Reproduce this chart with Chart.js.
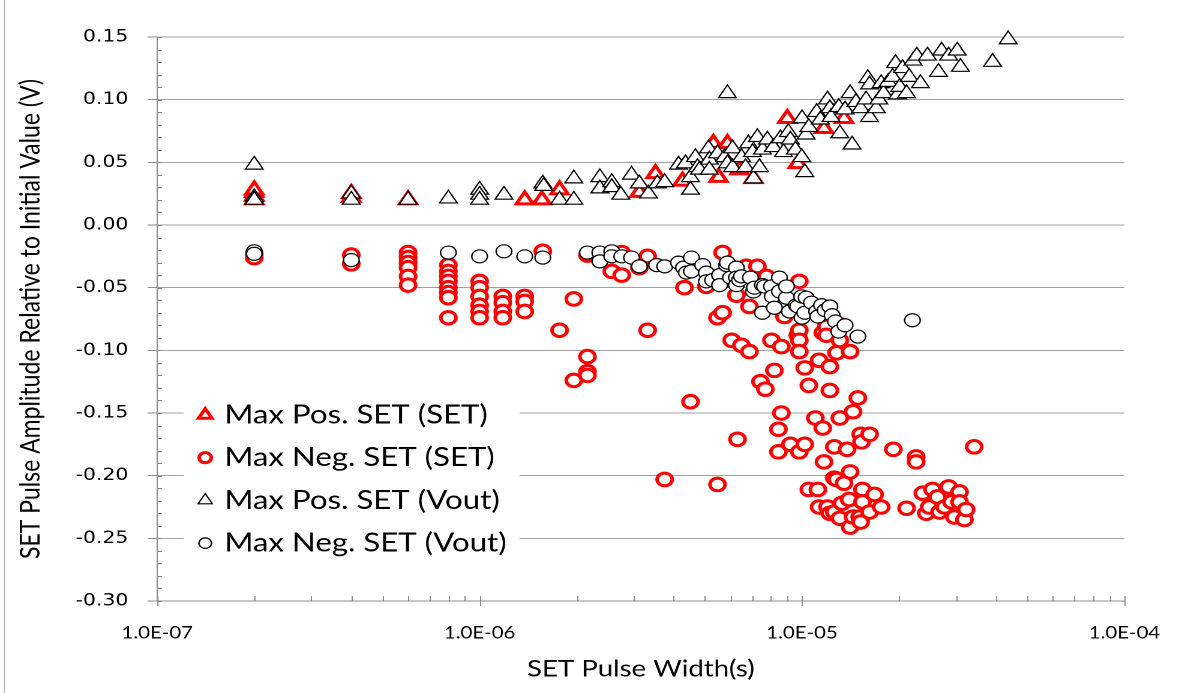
<!DOCTYPE html>
<html>
<head>
<meta charset="utf-8">
<title>SET pulse amplitude vs width</title>
<script src="https://cdn.jsdelivr.net/npm/chart.js@4.4.1/dist/chart.umd.min.js"></script>
<style>
  html, body { margin: 0; padding: 0; background: #fff; overflow: hidden; }
  #frame { position: absolute; left: 4px; top: 0; width: 1px; height: 693px; background: #b4b4b4; }
  /* the source picture is stretched sideways, so the whole chart is too */
  #wrap { position: absolute; left: 0; top: 0; width: 989px; height: 693px; transform: scaleX(1.2); transform-origin: 0 0; }
</style>
</head>
<body>
<div id="frame"></div>
<div id="wrap"><canvas id="chart" width="989" height="693"></canvas></div>
<script>
// axis ticks
const xTickValues = [1e-7, 1e-6, 1e-5, 1e-4];
const xTickLabels = ['1.0E-07', '1.0E-06', '1.0E-05', '1.0E-04'];
const yTickValues = [-0.30, -0.25, -0.20, -0.15, -0.10, -0.05, 0.00, 0.05, 0.10, 0.15];

// Max Pos. SET (SET) - pulse width (s) / amplitude (V)
const posSetWidth = [
  2e-7, 2e-7, 2e-7, 2e-7, 4e-7, 4e-7, 6e-7, 1.38e-6, 1.56e-6, 1.77e-6,
  3.13e-6, 3.51e-6, 4.26e-6, 5.31e-6, 5.51e-6, 5.87e-6, 6.40e-6, 7.07e-6, 9.0e-6, 9.7e-6,
  1.17e-5, 1.35e-5
];
const posSetAmp = [
  0.020, 0.023, 0.026, 0.028, 0.022, 0.025, 0.020, 0.020, 0.020, 0.028,
  0.026, 0.041, 0.035, 0.065, 0.038, 0.065, 0.044, 0.037, 0.085, 0.049,
  0.077, 0.085
];

// Max Neg. SET (SET)
const negSetWidth = [
  2e-7, 2e-7, 4e-7, 4e-7, 6e-7, 6e-7, 6e-7, 6e-7, 6e-7, 6e-7,
  8e-7, 8e-7, 8e-7, 8e-7, 8e-7, 8e-7, 8e-7, 8e-7, 1e-6, 1e-6,
  1e-6, 1e-6, 1e-6, 1e-6, 1.18e-6, 1.18e-6, 1.18e-6, 1.18e-6, 1.38e-6, 1.38e-6,
  1.38e-6, 1.57e-6, 1.77e-6, 1.96e-6, 1.96e-6, 2.16e-6, 2.16e-6, 2.16e-6, 2.16e-6, 2.57e-6,
  2.76e-6, 2.76e-6, 3.13e-6, 3.32e-6, 3.32e-6, 3.75e-6, 4.32e-6, 4.51e-6, 5.05e-6, 5.47e-6,
  5.47e-6, 5.67e-6, 5.67e-6, 6.05e-6, 6.26e-6, 6.31e-6, 6.49e-6, 6.72e-6, 6.87e-6, 6.87e-6,
  7.27e-6, 7.43e-6, 7.70e-6, 7.76e-6, 8.04e-6, 8.21e-6, 8.45e-6, 8.45e-6, 8.63e-6, 8.63e-6,
  8.82e-6, 9.2e-6, 9.7e-6, 9.81e-6, 9.81e-6, 9.81e-6, 9.81e-6, 9.81e-6, 1.02e-5, 1.02e-5,
  1.05e-5, 1.05e-5, 1.10e-5, 1.12e-5, 1.13e-5, 1.13e-5, 1.16e-5, 1.16e-5, 1.17e-5, 1.19e-5,
  1.19e-5, 1.20e-5, 1.22e-5, 1.22e-5, 1.22e-5, 1.26e-5, 1.26e-5, 1.26e-5, 1.28e-5, 1.28e-5,
  1.31e-5, 1.31e-5, 1.31e-5, 1.33e-5, 1.33e-5, 1.35e-5, 1.38e-5, 1.40e-5, 1.41e-5, 1.41e-5,
  1.41e-5, 1.44e-5, 1.44e-5, 1.49e-5, 1.51e-5, 1.52e-5, 1.52e-5, 1.53e-5, 1.54e-5, 1.54e-5,
  1.62e-5, 1.62e-5, 1.68e-5, 1.76e-5, 1.92e-5, 2.11e-5, 2.26e-5, 2.26e-5, 2.37e-5, 2.43e-5,
  2.48e-5, 2.54e-5, 2.63e-5, 2.67e-5, 2.77e-5, 2.85e-5, 2.91e-5, 2.97e-5, 3.08e-5, 3.08e-5,
  3.19e-5, 3.23e-5, 3.42e-5
];
const negSetAmp = [
  -0.023, -0.026, -0.024, -0.031, -0.022, -0.026, -0.030, -0.034, -0.041, -0.048,
  -0.032, -0.037, -0.041, -0.045, -0.050, -0.054, -0.058, -0.074, -0.045, -0.050,
  -0.057, -0.064, -0.069, -0.074, -0.057, -0.062, -0.069, -0.074, -0.057, -0.061,
  -0.069, -0.021, -0.084, -0.059, -0.124, -0.105, -0.117, -0.120, -0.024, -0.037,
  -0.040, -0.022, -0.034, -0.084, -0.025, -0.203, -0.050, -0.141, -0.049, -0.207,
  -0.074, -0.022, -0.070, -0.092, -0.056, -0.171, -0.096, -0.033, -0.101, -0.065,
  -0.033, -0.125, -0.131, -0.041, -0.092, -0.116, -0.163, -0.181, -0.097, -0.150,
  -0.073, -0.175, -0.088, -0.045, -0.084, -0.092, -0.101, -0.181, -0.114, -0.175,
  -0.128, -0.211, -0.154, -0.211, -0.225, -0.108, -0.162, -0.086, -0.189, -0.081,
  -0.088, -0.225, -0.132, -0.113, -0.230, -0.202, -0.177, -0.229, -0.102, -0.203,
  -0.092, -0.154, -0.234, -0.080, -0.222, -0.206, -0.179, -0.219, -0.101, -0.197,
  -0.241, -0.149, -0.233, -0.138, -0.233, -0.167, -0.237, -0.173, -0.211, -0.221,
  -0.167, -0.229, -0.215, -0.225, -0.179, -0.226, -0.185, -0.189, -0.214, -0.230,
  -0.225, -0.211, -0.217, -0.229, -0.225, -0.209, -0.221, -0.233, -0.213, -0.221,
  -0.235, -0.227, -0.177
];

// Max Pos. SET (Vout)
const posVoutWidth = [
  2e-7, 2e-7, 2e-7, 4e-7, 4e-7, 6e-7, 8e-7, 1e-6, 1e-6, 1e-6,
  1.19e-6, 1.57e-6, 1.58e-6, 1.77e-6, 1.96e-6, 1.96e-6, 2.36e-6, 2.36e-6, 2.57e-6, 2.57e-6,
  2.74e-6, 2.96e-6, 3.13e-6, 3.34e-6, 3.56e-6, 3.75e-6, 4.14e-6, 4.35e-6, 4.51e-6, 4.51e-6,
  4.67e-6, 4.74e-6, 4.81e-6, 5.13e-6, 5.16e-6, 5.16e-6, 5.47e-6, 5.75e-6, 5.87e-6, 5.87e-6,
  6.09e-6, 6.09e-6, 6.49e-6, 6.68e-6, 6.82e-6, 7.02e-6, 7.07e-6, 7.27e-6, 7.38e-6, 7.54e-6,
  7.81e-6, 8.15e-6, 8.57e-6, 8.76e-6, 9.07e-6, 9.20e-6, 9.54e-6, 9.98e-6, 1.00e-5, 1.02e-5,
  1.03e-5, 1.05e-5, 1.11e-5, 1.14e-5, 1.20e-5, 1.22e-5, 1.23e-5, 1.30e-5, 1.31e-5, 1.36e-5,
  1.41e-5, 1.43e-5, 1.47e-5, 1.52e-5, 1.58e-5, 1.60e-5, 1.62e-5, 1.62e-5, 1.70e-5, 1.73e-5,
  1.76e-5, 1.79e-5, 1.85e-5, 1.91e-5, 1.95e-5, 1.98e-5, 2.01e-5, 2.05e-5, 2.11e-5, 2.15e-5,
  2.21e-5, 2.27e-5, 2.33e-5, 2.45e-5, 2.65e-5, 2.71e-5, 2.85e-5, 3.03e-5, 3.10e-5, 3.90e-5,
  4.36e-5
];
const posVoutAmp = [
  0.048, 0.022, 0.020, 0.025, 0.020, 0.020, 0.021, 0.028, 0.024, 0.020,
  0.024, 0.033, 0.031, 0.020, 0.037, 0.020, 0.038, 0.029, 0.034, 0.030,
  0.024, 0.040, 0.033, 0.025, 0.033, 0.034, 0.048, 0.049, 0.038, 0.028,
  0.054, 0.046, 0.044, 0.061, 0.052, 0.044, 0.057, 0.054, 0.049, 0.105,
  0.061, 0.046, 0.054, 0.046, 0.065, 0.058, 0.037, 0.070, 0.046, 0.060,
  0.068, 0.062, 0.069, 0.058, 0.074, 0.068, 0.060, 0.054, 0.085, 0.042,
  0.072, 0.078, 0.090, 0.084, 0.100, 0.093, 0.086, 0.094, 0.073, 0.092,
  0.105, 0.064, 0.098, 0.093, 0.100, 0.117, 0.112, 0.086, 0.093, 0.100,
  0.113, 0.105, 0.114, 0.118, 0.129, 0.104, 0.110, 0.125, 0.105, 0.118,
  0.131, 0.135, 0.113, 0.135, 0.122, 0.139, 0.135, 0.139, 0.126, 0.130,
  0.148
];

// Max Neg. SET (Vout)
const negVoutWidth = [
  2e-7, 2e-7, 4e-7, 8e-7, 1e-6, 1.19e-6, 1.38e-6, 1.57e-6, 2.16e-6, 2.36e-6,
  2.36e-6, 2.57e-6, 2.57e-6, 2.76e-6, 2.96e-6, 3.13e-6, 3.54e-6, 3.75e-6, 4.14e-6, 4.29e-6,
  4.38e-6, 4.54e-6, 4.54e-6, 4.92e-6, 5.05e-6, 5.05e-6, 5.28e-6, 5.55e-6, 5.55e-6, 5.83e-6,
  5.87e-6, 6.00e-6, 6.26e-6, 6.26e-6, 6.26e-6, 6.40e-6, 6.49e-6, 6.92e-6, 7.07e-6, 7.12e-6,
  7.54e-6, 7.54e-6, 7.65e-6, 8.04e-6, 8.09e-6, 8.21e-6, 8.51e-6, 8.51e-6, 8.95e-6, 8.95e-6,
  9.14e-6, 9.60e-6, 9.70e-6, 9.98e-6, 1.00e-5, 1.02e-5, 1.03e-5, 1.07e-5, 1.11e-5, 1.12e-5,
  1.15e-5, 1.18e-5, 1.22e-5, 1.24e-5, 1.27e-5, 1.30e-5, 1.36e-5, 1.49e-5, 2.20e-5
];
const negVoutAmp = [
  -0.021, -0.023, -0.028, -0.022, -0.025, -0.021, -0.025, -0.026, -0.022, -0.022,
  -0.029, -0.021, -0.025, -0.025, -0.026, -0.033, -0.032, -0.033, -0.030, -0.034,
  -0.038, -0.026, -0.037, -0.032, -0.038, -0.045, -0.044, -0.040, -0.048, -0.032,
  -0.030, -0.042, -0.034, -0.042, -0.048, -0.044, -0.041, -0.042, -0.053, -0.050,
  -0.048, -0.070, -0.049, -0.049, -0.057, -0.066, -0.042, -0.053, -0.058, -0.049,
  -0.069, -0.064, -0.065, -0.057, -0.074, -0.070, -0.058, -0.062, -0.069, -0.073,
  -0.064, -0.068, -0.065, -0.072, -0.077, -0.085, -0.080, -0.089, -0.076
];

const toPoints = (xs, ys) => xs.map((x, i) => ({ x: x, y: ys[i] }));

const RED = '#ff0000';
const AXIS = '#8c8c8c';

// minor ticks: 2..9 per decade on x, every 0.01 on y
const axisTicks = {
  id: 'axisTicks',
  beforeDatasetsDraw(chart) {
    const { ctx, chartArea: area, scales: { x, y } } = chart;
    ctx.save();
    ctx.strokeStyle = AXIS;
    ctx.lineWidth = 1;
    ctx.beginPath();
    const yMin = yTickValues[0];
    const steps = Math.round((yTickValues[yTickValues.length - 1] - yMin) / 0.01);
    for (let i = 0; i <= steps; i++) {
      const py = Math.round(y.getPixelForValue(yMin + i * 0.01)) + 0.5;
      ctx.moveTo(area.left, py);
      ctx.lineTo(area.left + 4, py);
    }
    xTickValues.forEach((base, k) => {
      const last = k === xTickValues.length - 1;
      for (let m = 1; m <= (last ? 1 : 9); m++) {
        const px = Math.round(x.getPixelForValue(m * base)) + 0.5;
        ctx.moveTo(px, area.bottom - 5);
        ctx.lineTo(px, area.bottom + (m === 1 ? 5 : 0));
      }
    });
    ctx.stroke();
    ctx.restore();
  }
};

function drawMarker(ctx, ds, cx, cy, r) {
  ctx.beginPath();
  if (ds.pointStyle === 'triangle') {
    ctx.moveTo(cx, cy - r);
    ctx.lineTo(cx + r * 0.866, cy + r / 2);
    ctx.lineTo(cx - r * 0.866, cy + r / 2);
    ctx.closePath();
  } else {
    ctx.arc(cx, cy, r, 0, Math.PI * 2);
  }
  ctx.fillStyle = ds.pointBackgroundColor;
  ctx.fill();
  ctx.lineWidth = ds.pointBorderWidth;
  ctx.strokeStyle = ds.pointBorderColor;
  ctx.stroke();
}

// legend sits inside the plot, lower left, on a white box
const boxLegend = {
  id: 'boxLegend',
  afterDraw(chart) {
    const { ctx, chartArea: area } = chart;
    const left = area.left + 22;
    const top = area.top + 358;
    ctx.save();
    ctx.fillStyle = '#fff';
    ctx.fillRect(left, top, 280, 168);
    ctx.font = '26px Lato';
    ctx.textBaseline = 'middle';
    chart.data.datasets.forEach((ds, i) => {
      const cy = top + 20 + i * 42.7;
      drawMarker(ctx, ds, left + 18, cy, ds.pointRadius * 0.8);
      ctx.fillStyle = '#000';
      ctx.fillText(ds.label, left + 34, cy);
    });
    ctx.restore();
  }
};

const ctx = document.getElementById('chart').getContext('2d');
new Chart(ctx, {
  type: 'scatter',
  data: {
    datasets: [
      {
        label: 'Max Pos. SET (SET)',
        data: toPoints(posSetWidth, posSetAmp),
        pointStyle: 'triangle',
        pointRadius: 8,
        pointBorderWidth: 3,
        pointBorderColor: RED,
        pointBackgroundColor: '#fff',
        borderColor: RED,
        backgroundColor: '#fff',
        order: 2,
        clip: false
      },
      {
        label: 'Max Neg. SET (SET)',
        data: toPoints(negSetWidth, negSetAmp),
        pointStyle: 'circle',
        pointRadius: 6.3,
        pointBorderWidth: 3,
        pointBorderColor: RED,
        pointBackgroundColor: '#fff',
        borderColor: RED,
        backgroundColor: '#fff',
        order: 2,
        clip: false
      },
      {
        label: 'Max Pos. SET (Vout)',
        data: toPoints(posVoutWidth, posVoutAmp),
        pointStyle: 'triangle',
        pointRadius: 8.5,
        pointBorderWidth: 1.2,
        pointBorderColor: '#000',
        pointBackgroundColor: '#fff',
        borderColor: '#000',
        backgroundColor: '#fff',
        order: 1,
        clip: false
      },
      {
        label: 'Max Neg. SET (Vout)',
        data: toPoints(negVoutWidth, negVoutAmp),
        pointStyle: 'circle',
        pointRadius: 6.5,
        pointBorderWidth: 1.2,
        pointBorderColor: '#000',
        pointBackgroundColor: '#fff',
        borderColor: '#000',
        backgroundColor: '#fff',
        order: 1,
        clip: false
      }
    ]
  },
  options: {
    responsive: false,
    devicePixelRatio: 2,
    animation: false,
    events: [],
    layout: { padding: { top: 37, right: 52, bottom: 0, left: 0 } },
    plugins: {
      legend: { display: false },
      tooltip: { enabled: false }
    },
    scales: {
      x: {
        type: 'logarithmic',
        position: 'bottom',
        min: xTickValues[0],
        max: xTickValues[xTickValues.length - 1],
        afterBuildTicks: (s) => { s.ticks = xTickValues.map((v) => ({ value: v, major: true })); },
        afterFit: (s) => { s.height = 92; },
        grid: { display: false },
        border: { display: true, color: AXIS, width: 1 },
        ticks: {
          autoSkip: false,
          maxRotation: 0,
          padding: 14,
          color: '#000',
          font: { family: 'Lato', size: 17 },
          callback: (v, i) => xTickLabels[i]
        },
        title: {
          display: true,
          text: 'SET Pulse Width(s)',
          color: '#000',
          font: { family: 'Lato', size: 23 },
          padding: { top: 0, bottom: 10 }
        }
      },
      y: {
        type: 'linear',
        min: yTickValues[0],
        max: yTickValues[yTickValues.length - 1],
        afterBuildTicks: (s) => { s.ticks = yTickValues.map((v) => ({ value: v })); },
        afterFit: (s) => { s.width = 131; },
        grid: { color: '#a0a0a0', lineWidth: 1, tickLength: 8, tickColor: AXIS },
        border: { display: true, color: AXIS, width: 1 },
        ticks: {
          padding: 16,
          color: '#000',
          font: { family: 'DejaVu Sans', size: 17 },
          callback: (v) => v.toFixed(2)
        },
        title: {
          display: true,
          text: 'SET Pulse Amplitude Relative to Initial Value (V)',
          color: '#000',
          font: { family: 'Lato', size: 23 },
          padding: { top: 12, bottom: 0 }
        }
      }
    }
  },
  plugins: [axisTicks, boxLegend]
});
</script>
</body>
</html>
